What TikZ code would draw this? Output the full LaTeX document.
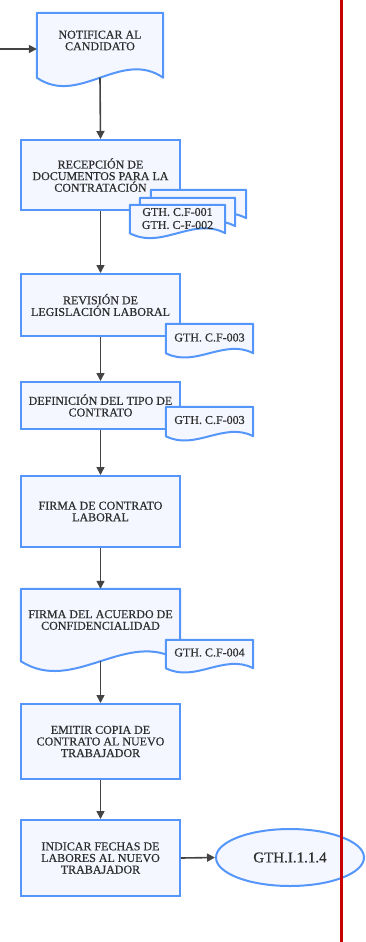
\documentclass[tikz,border=0pt]{standalone}
\usepackage{fontspec}
\setmainfont{Liberation Serif}[FakeBold=0.5]
\usetikzlibrary{arrows.meta,calc,shapes.geometric}

\definecolor{flowblue}{RGB}{85,150,250}
\definecolor{flowfill}{RGB}{244,247,255}
\definecolor{flowtext}{RGB}{46,46,46}
\definecolor{flowarrow}{RGB}{68,68,68}
\definecolor{lanered}{RGB}{200,0,0}

\tikzset{
  every node/.style={font=\fontsize{12}{11.6}\selectfont, text=flowtext, align=center, inner sep=0pt},
  procbox/.style={draw=flowblue, fill=flowfill, line width=2pt, minimum width=159pt},
  docarea/.style={draw=none, minimum width=#1},
  docline/.style={draw=flowblue, fill=flowfill, line width=2pt, line join=round},
  termbox/.style={ellipse, draw=flowblue, fill=flowfill, line width=2pt,
    minimum width=148pt, minimum height=57pt, font=\fontsize{15}{16}\selectfont},
  flow/.style={draw=flowarrow, line width=1.6pt, -{Triangle[length=8pt,width=8pt]}},
  laneline/.style={draw=lanered, line width=3pt},
}

% document symbol: flat top, straight sides, wavy bottom edge on the node's south side
\newcommand\docoutline[2]{%
  \path[docline] (#1.north west) -- (#1.north east) -- (#1.south east)
    .. controls ($(#1.south east)!1/3!(#1.south west)+(0,#2)$)
       and ($(#1.south east)!2/3!(#1.south west)-(0,#2)$) .. (#1.south west) -- cycle;}

\begin{document}
\begin{tikzpicture}[x=1pt,y=1pt]
\useasboundingbox (0,0) rectangle (365,-942);

% process steps
\node[docarea=126pt, minimum height=64.5pt] (n1) at (100,-45.25) {};
\docoutline{n1}{29}
\node at (100,-40.5) {NOTIFICAR AL\\CANDIDATO};

\node[procbox, minimum height=70pt] (n2) at (100.5,-175) {RECEPCIÓN DE\\DOCUMENTOS PARA LA\\CONTRATACIÓN};
\node[procbox, minimum height=62pt] (n3) at (100.5,-305) {REVISIÓN DE\\LEGISLACIÓN LABORAL};
\node[procbox, minimum height=47pt] (n4) at (100.5,-405.5) {DEFINICIÓN DEL TIPO DE\\CONTRATO};
\node[procbox, minimum height=71pt] (n5) at (100.5,-511.5) {FIRMA DE CONTRATO\\LABORAL};

\node[docarea=159pt, minimum height=72pt] (n6) at (100.5,-625) {};
\docoutline{n6}{34}
\node at (100.5,-620) {FIRMA DEL ACUERDO DE\\CONFIDENCIALIDAD};

\node[procbox, minimum height=75pt] (n7) at (100.5,-741.5) {EMITIR COPIA DE\\CONTRATO AL NUEVO\\TRABAJADOR};
\node[procbox, minimum height=76pt] (n8) at (100.5,-858) {INDICAR FECHAS DE\\LABORES AL NUEVO\\TRABAJADOR};

% connectors
\coordinate (entry) at (0,-49);
\draw[flow] (entry) -- (entry -| n1.west);
\draw[flow] (n1.south) -- (n2.north);
\draw[flow] (n2.south) -- (n3.north);
\draw[flow] (n3.south) -- (n4.north);
\draw[flow] (n4.south) -- (n5.north);
\draw[flow] (n5.south) -- (n6.north);
\draw[flow] (n6.south) -- (n7.north);
\draw[flow] (n7.south) -- (n8.north);

% attached forms
\node[docarea=95pt, minimum height=28pt] (f2c) at (198.5,-204) {};
\docoutline{f2c}{17}
\node[docarea=95pt, minimum height=28pt] (f2b) at (187.5,-212) {};
\docoutline{f2b}{17}
\node[docarea=95pt, minimum height=28pt] (f2a) at (177.5,-219) {};
\docoutline{f2a}{17}
\node at (177.5,-218.5) {GTH. C.F-001\\[1.4pt]GTH. C-F-002};

\node[docarea=87pt, minimum height=29pt] (f3) at (209.5,-338.5) {};
\docoutline{f3}{15}
\node at (209.5,-337.5) {GTH. C.F-003};

\node[docarea=87pt, minimum height=29pt] (f4) at (209.5,-421.5) {};
\docoutline{f4}{15}
\node at (209.5,-420) {GTH. C.F-003};

\node[docarea=87pt, minimum height=28pt] (f6) at (209.5,-654) {};
\docoutline{f6}{15}
\node at (209.5,-652.5) {GTH. C.F-004};

% link to the next procedure
\node[termbox] (e) at (290,-857.5) {GTH.I.1.1.4};
\draw[flow] (n8.east) -- (e.west);

% lane border
\draw[laneline] (341,0) -- (341,-942);
\end{tikzpicture}
\end{document}
